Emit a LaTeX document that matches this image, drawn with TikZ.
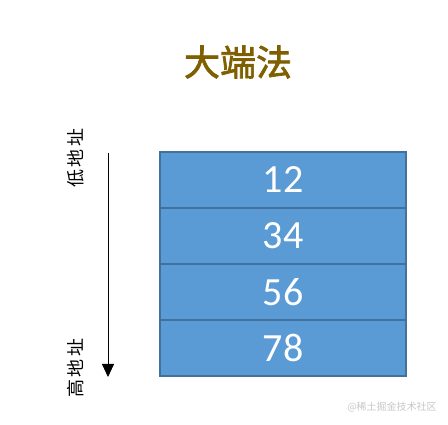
\documentclass[tikz,border=0pt]{standalone}
\usepackage{fontspec}
\setmainfont{Carlito}
\newfontfamily\cjk{Noto Sans CJK SC}
\newfontfamily\cjkwide[LetterSpace=12]{Noto Sans CJK SC}
\newfontfamily\cjktitle[FakeBold=2]{Noto Sans CJK SC}
\usetikzlibrary{arrows.meta}
\definecolor{cellblue}{HTML}{5B9BD5}
\definecolor{cellline}{HTML}{41719C}
\definecolor{titlebrown}{HTML}{7F6000}
\tikzset{
	cell/.style={draw=cellline, line width=1.3pt, fill=cellblue, text=white,
		minimum width=246pt, minimum height=56pt, inner sep=0pt,
		font=\fontsize{40}{40}\selectfont},
	addr/.style={rotate=90, font=\cjkwide\fontsize{18}{18}\selectfont}
}
\begin{document}
\begin{tikzpicture}[x=1pt,y=-1pt]
	\useasboundingbox (0,0) rectangle (448,425);
	\node [font=\cjktitle\fontsize{36}{36}\selectfont, text=titlebrown] (title) at (238,62) {大端法};
	\foreach \v [count=\i] in {12, 34, 56, 78} {
		\node [cell] (cell\i) at (283,{124+56*\i}) {\v};
	}
	\coordinate (low) at (108,153);
	\coordinate (high) at (108,377);
	\draw [-{Triangle[length=13pt,width=12pt]}, line width=0.8pt] (low) -- (high);
	\node [addr] (lowaddr) at (76,158) {低地址};
	\node [addr] (highaddr) at (76,368) {高地址};
	\node [font=\cjk\fontsize{10}{10}\selectfont, text=black!22] (mark) at (392,407) {@稀土掘金技术社区};
\end{tikzpicture}
\end{document}
